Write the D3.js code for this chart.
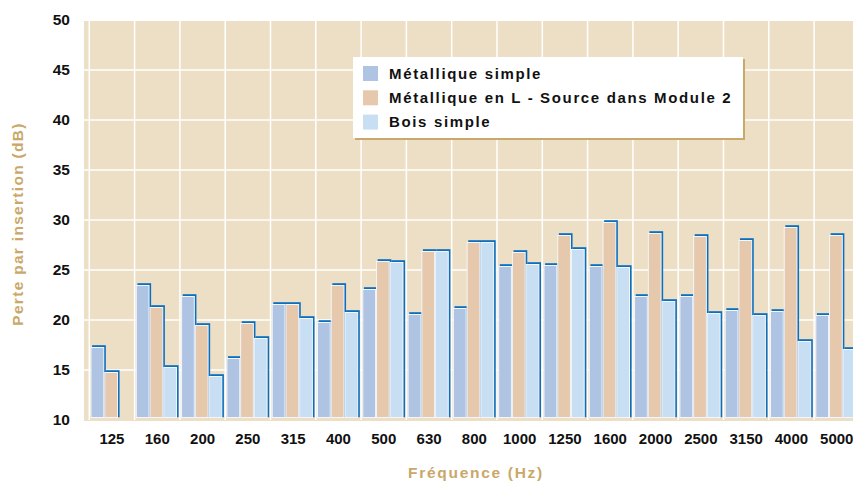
<!DOCTYPE html>
<html><head><meta charset="utf-8">
<script src="https://cdn.jsdelivr.net/npm/d3@7"></script>
<style>
body{margin:0;background:#fff;}
svg{display:block;font-family:"Liberation Sans",Arial,sans-serif;}
</style></head>
<body><svg id="c" width="853" height="483"></svg>
<script>
const categories = ["125","160","200","250","315","400","500","630","800","1000","1250","1600","2000","2500","3150","4000","5000"];
const metallique = [17.3,23.5,22.4,16.2,21.6,19.8,23.1,20.6,21.2,25.4,25.5,25.4,22.4,22.4,21.0,20.9,20.5];
const metalliqueL = [14.8,21.3,19.5,19.7,21.6,23.5,25.9,26.9,27.8,26.8,28.5,29.8,28.7,28.4,28.0,29.3,28.5];
const bois = [null,15.3,14.4,18.2,20.2,20.8,25.8,26.9,27.8,25.6,27.1,25.3,21.9,20.7,20.5,17.9,17.1];
const seriesNames = ["Métallique simple","Métallique en L - Source dans Module 2","Bois simple"];
const seriesColors = ["#afc3e3","#e6c8ad","#c8dff3"];
const yTicks = [10,15,20,25,30,35,40,45,50];

const svg = d3.select("#c");
const x = d3.scaleBand().domain(categories).range([89.3, 89.3 + 17*45.3]).padding(0);
const y = d3.scaleLinear().domain([10,50]).range([420,20]);
const keys = ["m","l","b"];
const xi = d3.scaleBand().domain(keys).range([1.2, 42.4]).padding(0);

// background
svg.append("rect").attr("x",84).attr("y",y(50)+1).attr("width",853-84).attr("height",y(10)-y(50)).attr("fill","#ecdfc5");

// grid
svg.append("g").selectAll("line").data(yTicks.filter(d=>d>10 && d<50)).join("line")
  .attr("x1",84).attr("x2",853).attr("y1",d=>y(d)).attr("y2",d=>y(d))
  .attr("stroke","#fff").attr("stroke-width",1.5);
svg.append("g").selectAll("line").data(categories).join("line")
  .attr("x1",d=>x(d)).attr("x2",d=>x(d)).attr("y1",y(50)+1).attr("y2",y(10))
  .attr("stroke","#fff").attr("stroke-width",1.5);

// bars
const rows = categories.map((c,i)=>({c, vals:[metallique[i],metalliqueL[i],bois[i]]}));
const g = svg.append("g");
rows.forEach(r=>{
  r.vals.forEach((v,k)=>{
    if(v==null) return;
    const bx = x(r.c)+xi(keys[k]);
    const w = xi.bandwidth();
    g.append("rect").attr("x",bx+1.6).attr("y",y(v)-1.8).attr("width",w).attr("height",y(10)-y(v)-1)
      .attr("fill","#0b6fbf");
    g.append("rect").attr("x",bx+0.5).attr("y",y(v)+0.5).attr("width",w-1).attr("height",y(10)-y(v)-3)
      .attr("fill",seriesColors[k]).attr("stroke","#f4f6fa").attr("stroke-width",1);
  });
});

// axes
const yAxis = svg.append("g").attr("transform","translate(84,0)")
  .call(d3.axisLeft(y).tickValues(yTicks).tickSize(0).tickPadding(14));
yAxis.select(".domain").remove();
yAxis.selectAll("text").attr("font-size",15.5).attr("font-weight","bold").attr("fill","#111")
  .attr("font-family","'Liberation Sans',Arial,sans-serif");

const xAxis = svg.append("g").attr("transform",`translate(0,${y(10)})`)
  .call(d3.axisBottom(x).tickSize(0).tickPadding(13.5));
xAxis.select(".domain").remove();
xAxis.selectAll("text").attr("font-size",15).attr("font-weight","bold").attr("fill","#111")
  .attr("font-family","'Liberation Sans',Arial,sans-serif");

// titles
svg.append("text").attr("x",476).attr("y",478).attr("text-anchor","middle")
  .attr("font-size",15.5).attr("font-weight","bold").attr("fill","#c9a86a").attr("letter-spacing",1.7)
  .text("Fréquence (Hz)");
svg.append("text").attr("transform","translate(23,224) rotate(-90)").attr("text-anchor","middle")
  .attr("font-size",15.5).attr("font-weight","bold").attr("fill","#c9a86a").attr("letter-spacing",1.3)
  .text("Perte par insertion (dB)");

// legend
const lg = svg.append("g");
lg.append("rect").attr("x",355).attr("y",59).attr("width",390).attr("height",81).attr("fill","#c9a86c");
lg.append("rect").attr("x",353).attr("y",57).attr("width",390).attr("height",81).attr("fill","#fff");
seriesNames.forEach((n,i)=>{
  const cy = 73.5 + i*24.3;
  lg.append("rect").attr("x",363).attr("y",cy-7.5).attr("width",15).attr("height",15).attr("fill",seriesColors[i]);
  lg.append("text").attr("x",389).attr("y",cy+5.3).attr("font-size",15).attr("font-weight","bold")
    .attr("fill","#111").attr("letter-spacing",1.65).text(n);
});
</script></body></html>
